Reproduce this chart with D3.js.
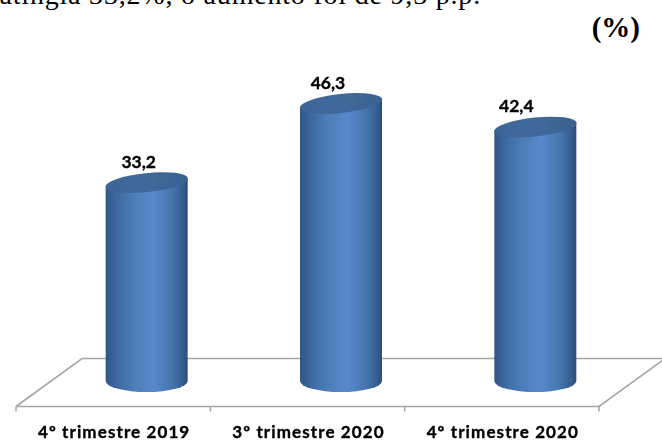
<!DOCTYPE html>
<html><head><meta charset="utf-8">
<script src="https://cdn.jsdelivr.net/npm/d3@7"></script>
<style>html,body{margin:0;padding:0;background:#fff}svg{display:block}</style>
</head><body><div id="c"></div>
<script>
const categories = ["4º trimestre 2019","3º trimestre 2020","4º trimestre 2020"];
const seriesValues = [33.2,46.3,42.4];
const valueLabels = ["33,2","46,3","42,4"];
const introText = "atingia 33,2%, o aumento foi de 9,3 p.p.";
const unitText = "(%)";

const W=662,H=440;
const svg=d3.select("#c").append("svg").attr("width",W).attr("height",H);
const x=d3.scaleBand().domain(categories).range([16,599]);
const y=d3.scaleLinear().domain([0,46.3]).range([383,103.5]);
const depthX=66, depthY=48, floorFront=406.5;
const offsetX=33.5;
const rx=41, ryBottom=11, ryTop=9.5, tilt=-6;
const labelShift=[-8,-13,-19], labelRise=15;
const cx=c=>x(c)+x.bandwidth()/2+offsetX;

const defs=svg.append("defs");
const g1=defs.append("linearGradient").attr("id","body");
[[0,"#2f5687"],[.12,"#3c679d"],[.35,"#4c7fba"],[.58,"#5789cb"],[.8,"#4776ae"],[.93,"#365f92"],[1,"#2c4d78"]]
 .forEach(d=>g1.append("stop").attr("offset",d[0]).attr("stop-color",d[1]));
const g2=defs.append("linearGradient").attr("id","cap");
[[0,"#3c6596"],[.5,"#41699a"],[1,"#3a6190"]]
 .forEach(d=>g2.append("stop").attr("offset",d[0]).attr("stop-color",d[1]));
defs.append("filter").attr("id","soft").append("feGaussianBlur").attr("stdDeviation",0.45);
defs.append("filter").attr("id","softText").append("feGaussianBlur").attr("stdDeviation",0.25);

// intro text
svg.append("text").attr("x",-0.5).attr("y",3.5).text(introText)
  .attr("font-family","Liberation Serif").attr("font-size",28).attr("letter-spacing",0.8).attr("fill","#000");
svg.append("text").attr("x",640).attr("y",37).attr("text-anchor","end").text(unitText)
  .attr("font-family","Liberation Serif").attr("font-weight","bold").attr("font-size",29).attr("fill","#000");

// floor
const floor=svg.append("g").attr("fill","none").attr("stroke","#a6a6a6").attr("stroke-width",1.6);
const [x0,x1]=x.range();
floor.append("path").attr("d",d3.line()([[x0,floorFront],[x0+depthX,floorFront-depthY],[x1+depthX,floorFront-depthY],[x1,floorFront],[x0,floorFront]]));
const ticks=[...categories.map(c=>x(c)),x1];
floor.selectAll("line").data(ticks).join("line")
  .attr("x1",d=>d).attr("x2",d=>d).attr("y1",floorFront).attr("y2",floorFront+5);

// cylinders
const bars=svg.append("g").selectAll("g").data(categories).join("g")
  .attr("filter","url(#soft)");
bars.append("path").attr("fill","url(#body)").attr("d",(c,i)=>{
  const t=y(seriesValues[i]), b=y(0)-2;
  return `M${cx(c)-rx},${t+4}L${cx(c)+rx},${t-4}L${cx(c)+rx},${b}A${rx},${ryBottom} 0 0 1 ${cx(c)-rx},${b}Z`;
});
bars.append("ellipse").attr("fill","url(#cap)")
  .attr("cx",cx)
  .attr("cy",(c,i)=>y(seriesValues[i]))
  .attr("rx",rx+0.5).attr("ry",ryTop)
  .attr("transform",(c,i)=>`rotate(${tilt} ${cx(c)} ${y(seriesValues[i])})`);

// labels
const font="Lato";
svg.append("g").attr("filter","url(#softText)").selectAll("text").data(categories).join("text")
  .attr("x",(c,i)=>cx(c)+labelShift[i])
  .attr("y",(c,i)=>y(seriesValues[i])-labelRise)
  .attr("text-anchor","middle").attr("font-family",font).attr("font-weight","bold")
  .attr("font-size",17.5).attr("stroke","#000").attr("stroke-width",0.35).attr("fill","#000").text((c,i)=>valueLabels[i]);
svg.append("g").attr("filter","url(#softText)").selectAll("text").data(categories).join("text")
  .attr("x",c=>x(c)+x.bandwidth()/2+1)
  .attr("y",437.5)
  .attr("text-anchor","middle").attr("font-family",font).attr("font-weight","bold")
  .attr("font-size",17).attr("letter-spacing",1.1).attr("stroke","#000").attr("stroke-width",0.35).attr("fill","#000").text(c=>c);
</script></body></html>
